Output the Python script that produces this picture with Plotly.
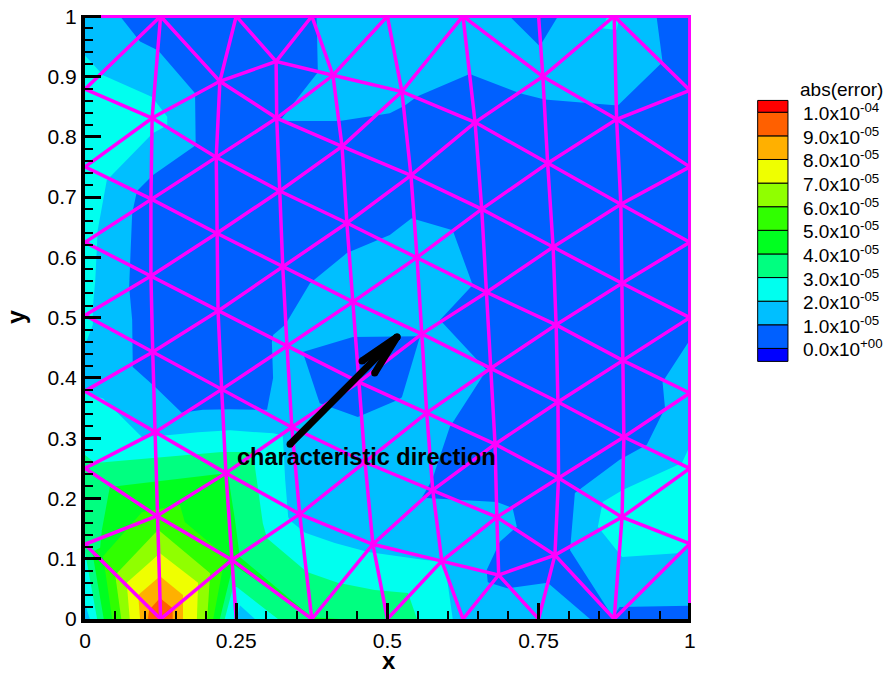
import plotly.graph_objects as go

FONT = "Liberation Sans, Arial, sans-serif"
MESH_COLOR = "#FF00FF"

X_TICKS = [0, 0.25, 0.5, 0.75, 1]
Y_TICKS = [0, 0.1, 0.2, 0.3, 0.4, 0.5, 0.6, 0.7, 0.8, 0.9, 1]
X_TICK_TEXT = ["0", "0.25", "0.5", "0.75", "1"]
Y_TICK_TEXT = ["0", "0.1", "0.2", "0.3", "0.4", "0.5", "0.6", "0.7", "0.8", "0.9", "1"]
AXIS_MAX = 1.002  # just past 1 so the inside ticks at 1 are kept by Plotly

# ---- contour levels and colours (legend) ----
LEVELS = [0e-5, 1e-5, 2e-5, 3e-5, 4e-5, 5e-5, 6e-5, 7e-5, 8e-5, 9e-5, 10e-5]
LEVEL_TEXT = [("0.0", "+00"), ("1.0", "-05"), ("2.0", "-05"), ("3.0", "-05"), ("4.0", "-05"), ("5.0", "-05"),
              ("6.0", "-05"), ("7.0", "-05"), ("8.0", "-05"), ("9.0", "-05"), ("1.0", "-04")]
BAND_COLORS = ["#0000FF", "#0060FF", "#00BFFF", "#00FFEF", "#00FF80", "#00FF20",
               "#30FF00", "#90FF00", "#EFFF00", "#FFB000", "#FF6000", "#FF0000"]
C_DARK, C_LIGHT, C_CYAN, C_MINT, C_GREEN, C_CHART, C_LIME, C_YELLOW, C_ORANGE, C_DORANGE = BAND_COLORS[1:11]

# ---- contour regions, data coordinates ----
FULL = [(0, 0), (1, 0), (1, 1), (0, 1)]
DARK_MAIN = [(.058, 1), (.383, 1), (.385, .907), (.322, .826), (.421, .826), (.504, .839), (.529, .852), (.549, .867),
             (.636, .904), (.719, .872), (.760, .862), (.856, .854), (.881, .852), (.955, .924), (.945, 1), (1, 1),
             (1, .463), (.955, .393), (.959, .350), (.929, .289), (.884, .264), (.810, .209), (.802, .114),
             (.873, .003), (.884, .020), (1, .022), (1, 0), (.835, 0), (.765, .060), (.698, .051), (.666, .061),
             (.664, .081), (.686, .128), (.714, .153), (.707, .184), (.681, .194), (.557, .201), (.574, .231),
             (.603, .318), (.664, .413), (.587, .496), (.641, .554), (.608, .645), (.540, .665), (.504, .637),
             (.433, .607), (.372, .557), (.331, .488), (.311, .471), (.309, .459), (.311, .400), (.301, .347),
             (.240, .348), (.195, .347), (.160, .342), (.116, .385), (.079, .418), (.078, .496), (.073, .551),
             (.078, .673), (.086, .710), (.112, .736), (.183, .786), (.182, .872), (.121, .943), (.091, .958)]
DARK_NOTCH = [(.702, 1), (.752, .950), (.782, 1)]
DARK_CENTER = [(.360, .443), (.443, .468), (.554, .469), (.524, .368), (.516, .363), (.451, .335), (.388, .358)]
CYAN_LEFT = [(0, .935), (.030, .902), (.111, .866), (.136, .833), (.136, .819), (.112, .806), (.041, .733),
             (.036, .728), (.021, .645), (.017, .562), (.013, .517), (.013, .488), (0, .454)]
CYAN_BOTTOM = [(0, .376), (.030, .366), (.094, .302), (.136, .305), (.187, .310), (.240, .313), (.311, .308),
               (.327, .305), (.331, .231), (.336, .169), (.342, .161), (.364, .143), (.413, .126), (.468, .111),
               (.562, .098), (.587, .096), (.595, .093), (.608, 0), (0, 0)]
CYAN_RIGHT = [(1, .287), (.987, .259), (.889, .214), (.856, .194), (.848, .153), (.888, .103), (.979, .109), (1, .123)]
CYAN_TOP = [(.855, .980), (.864, 1), (.884, 1), (.879, .977)]
LIGHT_PATCH_A = [(.256, .023), (.281, 0), (.251, 0)]
LIGHT_PATCH_B = [(0, .025), (.008, 0), (0, 0)]
MINT = [(0, .272), (.017, .259), (.226, .277), (.281, .277), (.281, .252), (.294, .159), (.301, .134), (.367, .078),
        (.418, .060), (.479, .048), (.534, .043), (.549, 0), (.319, 0), (.251, .053), (.245, .053), (.231, 0),
        (.020, 0), (0, .111)]
GREEN = [(.041, .219), (.236, .242), (.248, .164), (.256, .103), (.375, .003), (.421, 0), (.375, 0), (.364, .010),
         (.245, .090), (.223, 0), (.031, 0), (.012, .111), (.025, .118), (.028, .148)]
CHARTREUSE = [(.094, .177), (.157, .189), (.165, .161), (.236, .101), (.228, .085), (.212, 0), (.045, 0), (.030, .104)]
LIME = [(.121, .148), (.207, .076), (.202, 0), (.060, 0), (.050, .073)]
YELLOW = [(.124, .109), (.187, .060), (.185, 0), (.074, 0), (.069, .060)]
ORANGE = [(.124, .071), (.162, .040), (.162, 0), (.091, 0), (.088, .040)]
DORANGE = [(.124, .035), (.145, .018), (.145, 0), (.104, 0), (.106, .015)]

LAYERS = [
    (C_LIGHT, [FULL]),
    (C_DARK, [DARK_MAIN, DARK_NOTCH, DARK_CENTER]),
    (C_CYAN, [CYAN_LEFT, CYAN_BOTTOM, CYAN_RIGHT, CYAN_TOP]),
    (C_LIGHT, [LIGHT_PATCH_A, LIGHT_PATCH_B]),
    (C_MINT, [MINT]),
    (C_GREEN, [GREEN]),
    (C_CHART, [CHARTREUSE]),
    (C_LIME, [LIME]),
    (C_YELLOW, [YELLOW]),
    (C_ORANGE, [ORANGE]),
    (C_DORANGE, [DORANGE]),
]

# ---- mesh nodes, data coordinates ----
NODES = {
    "a1": (.111, .831), "a2": (.109, .697), "a3": (.109, .569), "a4": (.112, .443), "a5": (.116, .310), "a6": (.119, .171),
    "b1": (.223, .892), "b2": (.217, .766), "b3": (.218, .640), "b4": (.220, .511), "b5": (.226, .381), "b6": (.233, .242), "b7": (.243, .098),
    "c1": (.316, .925), "c2": (.317, .831), "c3": (.322, .710), "c4": (.327, .584), "c5": (.334, .453), "c6": (.342, .318), "c7": (.355, .174),
    "d1": (.410, .902), "d2": (.425, .784), "d3": (.433, .657), "d4": (.443, .526), "d5": (.453, .393), "d6": (.463, .260), "d7": (.476, .124),
    "e1": (.524, .875), "e2": (.539, .736), "e3": (.549, .600), "e4": (.557, .473), "e5": (.565, .342), "e6": (.575, .214), "e7": (.590, .096),
    "f1": (.645, .824), "f2": (.656, .680), "f3": (.664, .542), "f4": (.671, .416), "f5": (.678, .290), "f6": (.681, .169), "f7": (.684, .073),
    "g1": (.757, .900), "g2": (.765, .756), "g3": (.774, .617), "g4": (.779, .488), "g5": (.782, .360), "g6": (.783, .234), "g7": (.777, .106),
    "h1": (.879, .829), "h2": (.886, .688), "h3": (.888, .557), "h4": (.889, .429), "h5": (.891, .302), "h6": (.888, .169),
    "T0": (0, 1), "T1": (.125, 1), "T2": (.25, 1), "T3": (.375, 1), "T4": (.5, 1), "T5": (.625, 1), "T6": (.75, 1), "T7": (.875, 1), "T8": (1, 1),
    "B0": (0, 0), "B1": (.125, 0), "B2": (.25, 0), "B3": (.375, 0), "B4": (.5, 0), "B5": (.625, 0), "B6": (.75, 0), "B7": (.875, 0), "B8": (1, 0),
    "L1": (0, .879), "L2": (0, .75), "L3": (0, .625), "L4": (0, .504), "L5": (0, .378), "L6": (0, .25), "L7": (0, .124),
    "R1": (1, .877), "R2": (1, .75), "R3": (1, .625), "R4": (1, .5), "R5": (1, .375), "R6": (1, .25), "R7": (1, .125),
}
CHAINS = [
    "T0 T1 T2 T3 T4 T5 T6 T7 T8 R1 R2 R3 R4 R5 R6 R7 B8",
    "T1 a1 a2 a3 a4 a5 a6 B1",
    "T2 b1 b2 b3 b4 b5 b6 b7 B2",
    "c1 c2 c3 c4 c5 c6 c7 B3",
    "d1 d2 d3 d4 d5 d6 d7 B4",
    "e1 e2 e3 e4 e5 e6 e7 B5",
    "T5 f1 f2 f3 f4 f5 f6 f7",
    "T6 g1 g2 g3 g4 g5 g6 g7 B6",
    "T7 h1 h2 h3 h4 h5 h6 B7",
    "T1 b1 c2 d2 e2 f2 g3 h3 R4",
    "T2 c1 d1 e1 f1 g2 h2 R3",
    "T3 d1", "T4 e1", "T5 g1 h1 R2", "T7 R1",
    "L1 a1 b2 c3 d3 e3 f3 g4 h4 R5",
    "L2 a2 b3 c4 d4 e4 f4 g5 h5 R6",
    "L3 a3 b4 c5 d5 e5 f5 g6 h6 R7",
    "L4 a4 b5 c6 d6 e6 f6 g7 B7",
    "L5 a5 b6 c7 d7 e7 f7 B6",
    "L6 a6 b7 B3",
    "L7 B1",
    "R1 h1 g2 f2 e3 d4 c5 b5 a5 L6",
    "T7 g1 f1 e2 d3 c4 b4 a4 L5",
    "T5 e1 d2 c3 b3 a3 L4",
    "T4 d1 c2 b2 a2 L3",
    "T3 c1 b1 a1 L2",
    "T1 L1",
    "R2 h2 g3 f3 e4 d5 c6 b6 a6 L7",
    "R3 h3 g4 f4 e5 d6 c7 b7 B1",
    "R4 h4 g5 f5 e6 d7 B3",
    "R5 h5 g6 f6 e7 B4",
    "R6 h6 g7 f7 B5",
    "R7 B7",
]

# ---- arrow and text ----
ARROW_SHAFT = [(.339, .290), (.516, .468)]
ARROW_HEAD = [(.458, .428), (.516, .468), (.479, .408)]
ARROW_LABEL = "characteristic direction"
ARROW_LABEL_POS = (.466, .269)

# legend placement (fractions of the plotting area)
LEG_X0, LEG_X1 = 1.110, 1.160
LEG_Y_ZERO, LEG_Y_STEP = .448, .0391   # paper y of level 0 and per-level step
LEG_LABEL_X = 1.181

fig = go.Figure()


def flatten(polys):
    xs, ys = [], []
    for poly in polys:
        for x, y in poly:
            xs.append(x)
            ys.append(y)
        xs.append(poly[0][0])
        ys.append(poly[0][1])
        xs.append(None)
        ys.append(None)
    return xs, ys


for color, polys in LAYERS:
    xs, ys = flatten(polys)
    fig.add_trace(go.Scatter(x=xs, y=ys, mode="lines", fill="toself", fillcolor=color,
                             line=dict(width=0, color=color), hoverinfo="skip", showlegend=False))

mx, my = [], []
for chain in CHAINS:
    for name in chain.split():
        mx.append(NODES[name][0])
        my.append(NODES[name][1])
    mx.append(None)
    my.append(None)
fig.add_trace(go.Scatter(x=mx, y=my, mode="lines", line=dict(color=MESH_COLOR, width=3.5),
                         cliponaxis=False, hoverinfo="skip", showlegend=False))

for seg in (ARROW_SHAFT, ARROW_HEAD):
    fig.add_trace(go.Scatter(x=[p[0] for p in seg], y=[p[1] for p in seg], mode="lines+markers",
                             line=dict(color="black", width=7), marker=dict(color="black", size=7),
                             hoverinfo="skip", showlegend=False))

shapes = []
annotations = []
edges = [LEG_Y_ZERO - LEG_Y_STEP * 0.55] + [LEG_Y_ZERO + LEG_Y_STEP * i for i in range(len(LEVELS))]
edges.append(edges[-1] + LEG_Y_STEP * 0.5)
for i, color in enumerate(BAND_COLORS):
    shapes.append(dict(type="rect", xref="paper", yref="paper", x0=LEG_X0, x1=LEG_X1, y0=edges[i], y1=edges[i + 1],
                       fillcolor=color, line=dict(color="black", width=1)))
for i, (mant, exp) in enumerate(LEVEL_TEXT):
    annotations.append(dict(xref="paper", yref="paper", x=LEG_LABEL_X, y=LEG_Y_ZERO + LEG_Y_STEP * i,
                            xanchor="left", yanchor="middle", showarrow=False,
                            text=f"{mant}x10<sup>{exp}</sup>", font=dict(family=FONT, size=19, color="black")))
annotations.append(dict(xref="paper", yref="paper", x=1.176, y=.877, xanchor="left", yanchor="middle", showarrow=False,
                        text="abs(error)", font=dict(family=FONT, size=19, color="black")))
annotations.append(dict(xref="x", yref="y", x=ARROW_LABEL_POS[0], y=ARROW_LABEL_POS[1], showarrow=False,
                        text=f"<b>{ARROW_LABEL}</b>", font=dict(family=FONT, size=23.5, color="black")))
annotations.append(dict(xref="paper", yref="paper", x=.502, y=-.0695, showarrow=False, borderpad=0,
                        xanchor="center", yanchor="middle",
                        text="<b>x</b>", font=dict(family=FONT, size=24, color="black")))
annotations.append(dict(xref="paper", yref="paper", x=-.114, y=.5, showarrow=False, textangle=-90,
                        xanchor="center", yanchor="middle",
                        text="<b>y</b>", font=dict(family=FONT, size=25, color="black")))

axis_common = dict(range=[0, AXIS_MAX], showgrid=False, zeroline=False, showline=True, linecolor="black", linewidth=4,
                   ticks="inside", ticklen=16, tickwidth=3, tickcolor="black", automargin=False, tickmode="array",
                   ticklabeloverflow="allow",
                   tickfont=dict(family=FONT, size=21, color="black"), layer="above traces")
fig.update_layout(
    width=887, height=675, autosize=False,
    margin=dict(l=85, r=195.8, t=14.8, b=56),
    paper_bgcolor="white", plot_bgcolor="white", showlegend=False,
    shapes=shapes, annotations=annotations,
    xaxis=dict(axis_common, tickvals=X_TICKS, ticktext=X_TICK_TEXT,
               minor=dict(ticks="inside", ticklen=8, tickwidth=2, tickcolor="black", tick0=0, dtick=0.05)),
    yaxis=dict(axis_common, tickvals=Y_TICKS, ticktext=Y_TICK_TEXT,
               minor=dict(ticks="inside", ticklen=8, tickwidth=2, tickcolor="black", tick0=0, dtick=0.02)),
)
fig.write_html("out.html", config=dict(displayModeBar=False),
               post_script="document.body.style.margin='0';document.documentElement.style.overflow='hidden';")
